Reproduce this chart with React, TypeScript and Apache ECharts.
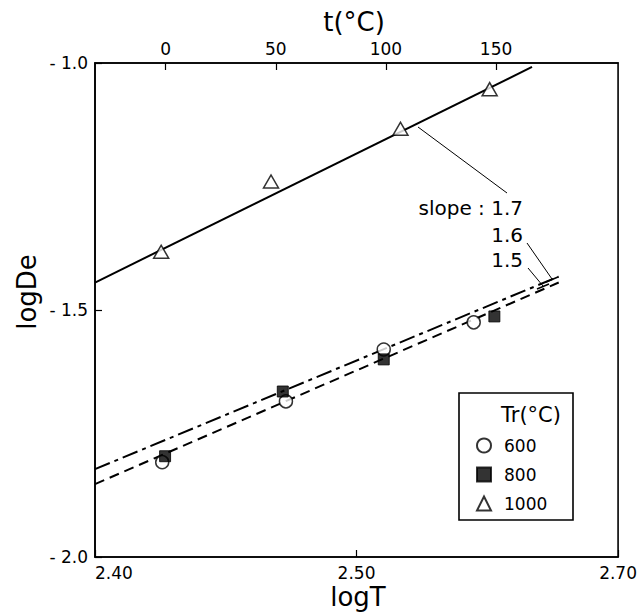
import React, { useEffect, useRef } from "react";
import * as echarts from "echarts";

// ---- data ----
const seriesNames = ["600", "800", "1000"];
const logT600 = [2.4257, 2.473, 2.5104, 2.5448];
const logDe600 = [-1.808, -1.685, -1.58, -1.525];
const logT800 = [2.4268, 2.4718, 2.5104, 2.5527];
const logDe800 = [-1.796, -1.665, -1.6, -1.513];
const logT1000 = [2.4253, 2.4673, 2.5168, 2.5509];
const logDe1000 = [-1.382, -1.24, -1.133, -1.053];

// fitted lines (end points)
const fit17X = [2.4, 2.5671];
const fit17Y = [-1.4444, -1.008];
const fit16X = [2.4, 2.5773];
const fit16Y = [-1.8222, -1.4323];
const fit15X = [2.4, 2.5773];
const fit15Y = [-1.8525, -1.4444];

// tick labels
const xTicks = [2.4, 2.5, 2.6];
const xTickLabels = ["2.40", "2.50", "2.70"];
const yTicks = [-2.0, -1.5, -1.0];
const yTickLabels = ["- 2.0", "- 1.5", "- 1.0"];
const tTicks = [0, 50, 100, 150];
const tTickLabels = ["0", "50", "100", "150"];

const FONT = "DejaVu Sans";

const zip = (xs: number[], ys: number[]) => xs.map((x, i) => [x, ys[i]]);
const lookup = (ticks: number[], labels: string[], v: number) => {
  const i = ticks.findIndex((t) => Math.abs(t - v) < 1e-6);
  return i >= 0 ? labels[i] : "";
};

export default function App() {
  const ref = useRef<HTMLDivElement>(null);
  useEffect(() => {
    if (!ref.current) return;
    const chart = echarts.init(ref.current, undefined, { renderer: "svg" });
    const black = "#000";
    chart.setOption({
      animation: false,
      backgroundColor: "#fff",
      textStyle: { fontFamily: FONT, color: black },
      grid: {
        left: 95,
        right: 15,
        top: 63,
        bottom: 56,
        show: true,
        borderColor: black,
        borderWidth: 1.6,
      },
      xAxis: [
        {
          type: "value",
          position: "bottom",
          min: 2.4,
          max: 2.6,
          interval: 0.1,
          axisLine: { onZero: false, lineStyle: { color: black, width: 1.6 } },
          axisTick: { inside: true, length: 7, lineStyle: { color: black, width: 1.2 } },
          splitLine: { show: false },
          axisLabel: {
            color: black,
            fontSize: 17,
            fontFamily: FONT,
            margin: 7,
            alignMinLabel: "left",
            formatter: (v: number) => lookup(xTicks, xTickLabels, v),
          },
        },
        {
          type: "value",
          position: "top",
          min: -32.1,
          max: 205.4,
          axisLine: { onZero: false, lineStyle: { color: black, width: 1.6 } },
          axisTick: {
            inside: true,
            length: 7,
            customValues: tTicks,
            lineStyle: { color: black, width: 1.2 },
          },
          splitLine: { show: false },
          axisLabel: {
            color: black,
            fontSize: 17,
            fontFamily: FONT,
            margin: 6,
            customValues: tTicks,
            formatter: (v: number) => lookup(tTicks, tTickLabels, v),
          },
        },
      ],
      yAxis: {
        type: "value",
        min: -2.0,
        max: -1.0,
        interval: 0.5,
        axisLine: { show: true, onZero: false, lineStyle: { color: black, width: 1.6 } },
        axisTick: { show: true, inside: true, length: 7, lineStyle: { color: black, width: 1.2 } },
        splitLine: { show: false },
        axisLabel: {
          color: black,
          fontSize: 17,
          fontFamily: FONT,
          margin: 7,
          formatter: (v: number) => lookup(yTicks, yTickLabels, v),
        },
      },
      legend: {
        data: seriesNames,
        orient: "vertical",
        left: 476,
        top: 437,
        padding: 0,
        itemWidth: 14,
        itemHeight: 14,
        itemGap: 12,
        selectedMode: false,
        textStyle: { fontSize: 17, fontFamily: FONT, color: black, padding: [0, 0, 0, 8] },
      },
      graphic: [
        { type: "rect", shape: { x: 459, y: 393, width: 114, height: 127 }, style: { fill: "none", stroke: black, lineWidth: 1.6 }, z: 10 },
        { type: "text", x: 531, y: 415, style: { text: "Tr(°C)", fontSize: 21, fontFamily: FONT, fill: black, align: "center", verticalAlign: "middle" }, z: 10 },
        { type: "text", x: 27, y: 292, rotation: Math.PI / 2, style: { text: "logDe", fontSize: 26, fontFamily: FONT, fill: black, align: "center", verticalAlign: "middle" } },
        { type: "text", x: 358, y: 597, style: { text: "logT", fontSize: 26, fontFamily: FONT, fill: black, align: "center", verticalAlign: "middle" } },
        { type: "text", x: 354, y: 22, style: { text: "t(°C)", fontSize: 26, fontFamily: FONT, fill: black, align: "center", verticalAlign: "middle" } },
        { type: "text", x: 523, y: 208, style: { text: "slope : 1.7", fontSize: 20, fontFamily: FONT, fill: black, align: "right", verticalAlign: "middle" } },
        { type: "text", x: 523, y: 235, style: { text: "1.6", fontSize: 20, fontFamily: FONT, fill: black, align: "right", verticalAlign: "middle" } },
        { type: "text", x: 523, y: 260, style: { text: "1.5", fontSize: 20, fontFamily: FONT, fill: black, align: "right", verticalAlign: "middle" } },
        { type: "line", shape: { x1: 418, y1: 127, x2: 507, y2: 193 }, style: { stroke: black, lineWidth: 1 } },
        { type: "line", shape: { x1: 527, y1: 243, x2: 552, y2: 279 }, style: { stroke: black, lineWidth: 1 } },
        { type: "line", shape: { x1: 546, y1: 282, x2: 558, y2: 277 }, style: { stroke: black, lineWidth: 1.5 } },
        { type: "line", shape: { x1: 528, y1: 268, x2: 543, y2: 286 }, style: { stroke: black, lineWidth: 1 } },
        { type: "line", shape: { x1: 537, y1: 289, x2: 549, y2: 284 }, style: { stroke: black, lineWidth: 1.5 } },
      ],
      series: [
        {
          type: "line",
          data: zip(fit17X, fit17Y),
          showSymbol: false,
          symbol: "none",
          lineStyle: { color: black, width: 2, type: "solid" },
          z: 1,
        },
        {
          type: "line",
          data: zip(fit16X, fit16Y),
          showSymbol: false,
          symbol: "none",
          lineStyle: { color: black, width: 2, type: [16, 5, 4, 5] },
          z: 1,
        },
        {
          type: "line",
          data: zip(fit15X, fit15Y),
          showSymbol: false,
          symbol: "none",
          lineStyle: { color: black, width: 2, type: [10, 6] },
          z: 1,
        },
        {
          name: seriesNames[0],
          type: "scatter",
          data: zip(logT600, logDe600),
          symbol: "circle",
          symbolSize: 13,
          itemStyle: { color: "#fff", borderColor: black, borderWidth: 1.5 },
          z: 3,
        },
        {
          name: seriesNames[1],
          type: "scatter",
          data: zip(logT800, logDe800),
          symbol: "rect",
          symbolSize: 11,
          itemStyle: { color: black, borderColor: black, borderWidth: 1 },
          z: 4,
        },
        {
          name: seriesNames[2],
          type: "scatter",
          data: zip(logT1000, logDe1000),
          symbol: "triangle",
          symbolSize: [15, 13],
          itemStyle: { color: "#fff", borderColor: black, borderWidth: 1.5 },
          z: 3,
        },
      ],
    });
    return () => chart.dispose();
  }, []);
  return <div ref={ref} style={{ width: 640, height: 613, position: "absolute", left: 0, top: 0 }} />;
}
